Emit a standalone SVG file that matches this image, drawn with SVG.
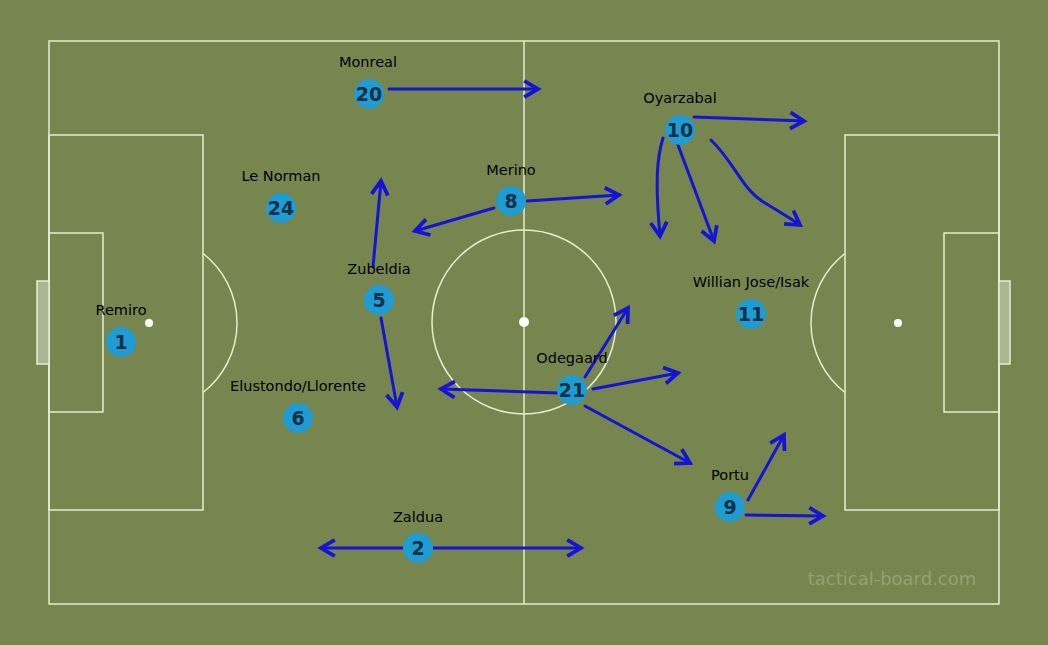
<svg xmlns="http://www.w3.org/2000/svg" width="1048" height="645" viewBox="0 0 1048 645">
<defs>
<marker id="ah" markerUnits="userSpaceOnUse" markerWidth="20" markerHeight="20" viewBox="-12 -8 16 16" refX="0" refY="0" orient="auto">
<path d="M-11,-6.5 L0,0 L-11,6.5" fill="none" stroke="#1414d4" stroke-width="3" stroke-linejoin="miter"/>
</marker>
</defs>
<style>
.ln{fill:none;stroke:#e6ecd2;stroke-width:1.5}
.goal{fill:#a9b593;stroke:#e6ecd2;stroke-width:1.5}
.pc{fill:#1f9cd2}
.num{font-family:"DejaVu Sans",sans-serif;font-weight:bold;font-size:19px;fill:#16304a;text-anchor:middle}
.lab{font-family:"DejaVu Sans",sans-serif;font-size:14.5px;fill:#000;text-anchor:middle}
.ar{fill:none;stroke:#1414d4;stroke-width:3;stroke-linecap:round;marker-end:url(#ah)}
</style>
<rect x="0" y="0" width="1048" height="645" fill="#77864f"/>
<g id="pitch">
<rect class="ln" x="49" y="41" width="950" height="563"/>
<line class="ln" x1="524" y1="41" x2="524" y2="604"/>
<circle class="ln" cx="524" cy="322" r="92"/>
<circle cx="524" cy="322" r="5" fill="#fff"/>
<rect class="ln" x="49" y="135" width="154" height="375"/>
<rect class="ln" x="49" y="233" width="54" height="179"/>
<rect class="goal" x="37" y="281" width="12" height="83"/>
<circle cx="149" cy="323" r="4" fill="#fff"/>
<path class="ln" d="M203,253.5 A88,88 0 0 1 203,392.5"/>
<rect class="ln" x="845" y="135" width="154" height="375"/>
<rect class="ln" x="944" y="233" width="55" height="179"/>
<rect class="goal" x="999" y="281" width="11" height="83"/>
<circle cx="898" cy="323" r="4" fill="#fff"/>
<path class="ln" d="M845,253.5 A88,88 0 0 0 845,392.5"/>
<text x="892" y="585" font-family="DejaVu Sans, sans-serif" font-size="18" fill="#93a271" text-anchor="middle">tactical-board.com</text>
</g>
<g id="connectors">
<line class="ar" x1="389" y1="89" x2="538" y2="89"/>
<line class="ar" x1="527" y1="201" x2="619" y2="195"/>
<line class="ar" x1="494" y1="208" x2="415" y2="231"/>
<line class="ar" x1="373" y1="267" x2="381" y2="181"/>
<line class="ar" x1="381" y1="318" x2="397" y2="407"/>
<line class="ar" x1="694" y1="117" x2="804" y2="121"/>
<path class="ar" d="M663,138 C657,158 655,180 660,236"/>
<line class="ar" x1="678" y1="145" x2="714" y2="241"/>
<path class="ar" d="M711,140 C735,163 742,190 765,203 C780,212 790,218 800,225"/>
<line class="ar" x1="585" y1="377" x2="628" y2="308"/>
<line class="ar" x1="593" y1="389" x2="678" y2="373"/>
<line class="ar" x1="558" y1="393" x2="441" y2="389"/>
<line class="ar" x1="585" y1="406" x2="690" y2="463"/>
<line class="ar" x1="748" y1="500" x2="784" y2="435"/>
<line class="ar" x1="746" y1="515" x2="823" y2="516"/>
<line class="ar" x1="433" y1="548" x2="581" y2="548"/>
<line class="ar" x1="403" y1="548" x2="321" y2="548"/>
</g>
<g id="p20"><text class="lab" x="368" y="67">Monreal</text><circle class="pc" cx="369" cy="94" r="15"/><text class="num" x="369" y="101">20</text></g>
<g id="p1"><text class="lab" x="121" y="315">Remiro</text><circle class="pc" cx="121" cy="342" r="15"/><text class="num" x="121" y="349">1</text></g>
<g id="p24"><text class="lab" x="281" y="181">Le Norman</text><circle class="pc" cx="281" cy="208" r="15"/><text class="num" x="281" y="215">24</text></g>
<g id="p5"><text class="lab" x="379" y="274">Zubeldia</text><circle class="pc" cx="379" cy="300" r="15"/><text class="num" x="379" y="307">5</text></g>
<g id="p6"><text class="lab" x="298" y="391">Elustondo/Llorente</text><circle class="pc" cx="298" cy="418" r="15"/><text class="num" x="298" y="425">6</text></g>
<g id="p8"><text class="lab" x="511" y="175">Merino</text><circle class="pc" cx="511" cy="201" r="15"/><text class="num" x="511" y="208">8</text></g>
<g id="p2"><text class="lab" x="418" y="522">Zaldua</text><circle class="pc" cx="418" cy="548" r="15"/><text class="num" x="418" y="555">2</text></g>
<g id="p21"><text class="lab" x="572" y="363">Odegaard</text><circle class="pc" cx="572" cy="390" r="15"/><text class="num" x="572" y="397">21</text></g>
<g id="p10"><text class="lab" x="680" y="103">Oyarzabal</text><circle class="pc" cx="680" cy="130" r="15"/><text class="num" x="680" y="137">10</text></g>
<g id="p11"><text class="lab" x="751" y="287">Willian Jose/Isak</text><circle class="pc" cx="751" cy="314" r="15"/><text class="num" x="751" y="321">11</text></g>
<g id="p9"><text class="lab" x="730" y="480">Portu</text><circle class="pc" cx="730" cy="507" r="15"/><text class="num" x="730" y="514">9</text></g>
</svg>
